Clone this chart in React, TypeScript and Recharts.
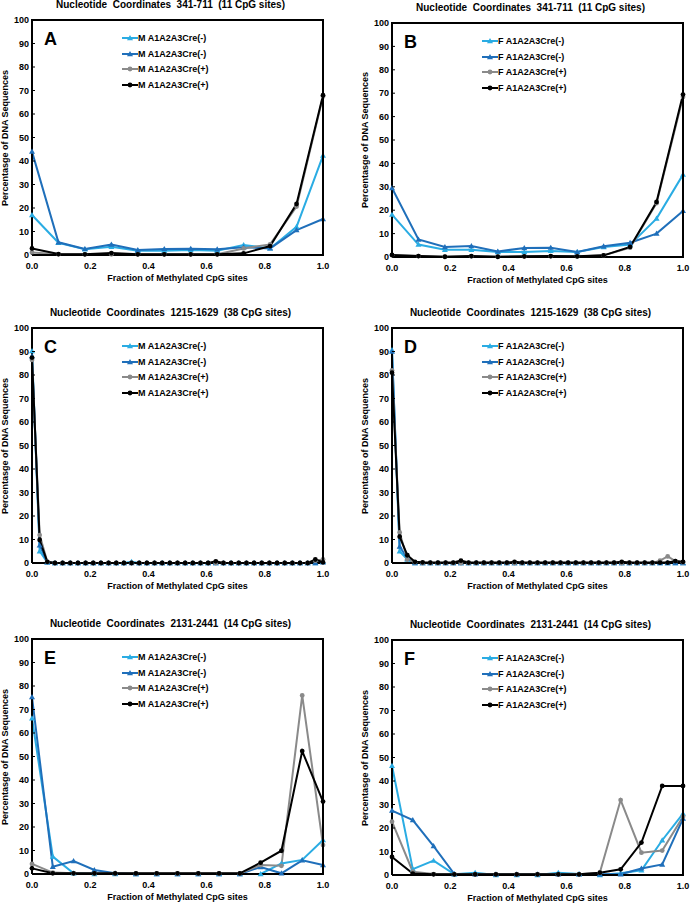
import { Line, LineChart, XAxis, YAxis } from "recharts";

const FONT = '"Liberation Sans", Arial, sans-serif';

const xTicks = [0, 0.2, 0.4, 0.6, 0.8, 1.0];
const yTicks = [0, 10, 20, 30, 40, 50, 60, 70, 80, 90, 100];
const xLabel = "Fraction of Methylated CpG sites";
const yLabel = "Percentasge of DNA Sequences";

const titles = [
  "Nucleotide  Coordinates  341-711  (11 CpG sites)",
  "Nucleotide  Coordinates  341-711  (11 CpG sites)",
  "Nucleotide  Coordinates  1215-1629  (38 CpG sites)",
  "Nucleotide  Coordinates  1215-1629  (38 CpG sites)",
  "Nucleotide  Coordinates  2131-2441  (14 CpG sites)",
  "Nucleotide  Coordinates  2131-2441  (14 CpG sites)",
];
const letters = ["A", "B", "C", "D", "E", "F"];
const namesM = ["M A1A2A3Cre(-)", "M A1A2A3Cre(-)", "M A1A2A3Cre(+)", "M A1A2A3Cre(+)"];
const namesF = ["F A1A2A3Cre(-)", "F A1A2A3Cre(-)", "F A1A2A3Cre(+)", "F A1A2A3Cre(+)"];

const colors = ["#2aace3", "#1f6fba", "#8a8a8a", "#000000"];
const markers = ["triangle", "triangle", "circle", "circle"];

// panel A: 11 CpG sites (12 points)
const aNeg1 = [17, 5.2, 2.4, 3.5, 1.8, 1.8, 2.1, 1.8, 4.3, 2.8, 12, 42.3];
const aNeg2 = [44, 5.4, 2.6, 4.5, 2.1, 2.6, 2.7, 2.4, 3.3, 2.8, 10.6, 15.3];
const aPos1 = [1.1, 0.3, 0.3, 0.3, 0.3, 0.3, 0.3, 0.3, 2.8, 4.5, 20.6, 67.4];
const aPos2 = [2.8, 0.4, 0.3, 0.8, 0.3, 0.3, 0.3, 0.3, 0.7, 3.8, 21.7, 68];

// panel B
const bNeg1 = [18.1, 5.3, 3.1, 3.1, 2.1, 2.1, 2.6, 2.1, 4.3, 5.3, 16.4, 35.2];
const bNeg2 = [29.5, 7.5, 4.3, 4.7, 2.4, 3.8, 4, 2.1, 4.6, 6.1, 10, 19.7];
const bPos1 = [0.7, 0.4, 0.1, 0.3, 0.1, 0.2, 0.3, 0.2, 0.7, 4, 23, 68.4];
const bPos2 = [0.9, 0.4, 0.1, 0.4, 0.1, 0.3, 0.4, 0.3, 0.7, 4.3, 23.5, 69.4];

// panel C: 38 CpG sites (39 points)
const cNeg1 = [90.2, 5, 0.3, 0, 0, 0, 0, 0, 0, 0, 0, 0, 0, 0.5, 0, 0, 0, 0, 0, 0, 0, 0, 0, 0, 0, 0, 0, 0, 0, 0, 0, 0, 0, 0, 0, 0, 0, 0, 0.5];
const cNeg2 = [88, 7.5, 0.3, 0, 0, 0, 0, 0, 0, 0, 0, 0, 0, 0, 0, 0, 0, 0, 0, 0, 0, 0, 0, 0, 0, 0, 0, 0, 0, 0, 0, 0, 0, 0, 0, 0, 0, 0, 0.3];
const cPos1 = [86.4, 11.9, 0.5, 0, 0, 0, 0, 0, 0, 0, 0, 0, 0, 0, 0, 0, 0, 0, 0, 0, 0, 0, 0, 0, 0, 0, 0, 0, 0, 0, 0, 0, 0, 0, 0, 0, 0, 1, 1.5];
const cPos2 = [87.4, 9.8, 0.5, 0, 0, 0, 0, 0, 0, 0, 0, 0, 0, 0, 0, 0, 0, 0, 0, 0, 0, 0, 0, 0, 0.7, 0, 0, 0, 0, 0, 0, 0, 0, 0, 0, 0, 0, 1.5, 0.3];

// panel D
const dNeg1 = [90.6, 5, 1.5, 0, 0, 0, 0, 0, 0, 0, 0, 0, 0, 0, 0, 0, 0, 0, 0, 0, 0, 0, 0, 0, 0, 0, 0, 0, 0, 0, 0, 0, 0, 0, 0, 0, 0, 0, 0];
const dNeg2 = [90, 7, 2, 0, 0, 0, 0, 0, 0, 0, 0, 0, 0, 0, 0, 0, 0, 0, 0, 0, 0, 0, 0, 0, 0, 0, 0, 0, 0, 0, 0, 0, 0, 0, 0, 0, 0, 0, 0];
const dPos1 = [82, 13, 1.5, 0.3, 0, 0, 0, 0, 0, 0, 0, 0, 0, 0, 0, 0, 0, 0, 0, 0, 0, 0, 0, 0, 0, 0, 0, 0, 0, 0, 0, 0, 0, 0, 0, 1, 2.8, 0.8, 0.3];
const dPos2 = [81, 11.2, 3.3, 0.5, 0.3, 0.2, 0.2, 0.2, 0.2, 1, 0.2, 0.2, 0.2, 0.2, 0.2, 0.2, 0.5, 0.2, 0.2, 0.2, 0.2, 0.2, 0.2, 0.2, 0.2, 0.2, 0.2, 0.2, 0.2, 0.2, 0.5, 0.2, 0.2, 0.2, 0.2, 0.2, 0.2, 0.8, 0.5];

// panel E: 14 CpG sites (15 points)
const eNeg1 = [66.3, 7.4, 0.3, 0, 0, 0, 0, 0, 0, 0, 0, 0, 4.5, 6, 14.5];
const eNeg2 = [75.3, 3.1, 5.5, 1.7, 0.3, 0, 0, 0, 0, 0, 0, 3, 0.3, 5.8, 3.8];
const ePos1 = [4.3, 0.6, 0.3, 0.2, 0.2, 0.2, 0.2, 0.2, 0.2, 0.2, 0.2, 3.8, 3.5, 76, 12.3];
const ePos2 = [2.4, 0.3, 0.3, 0.3, 0.3, 0.3, 0.3, 0.3, 0.3, 0.3, 0.3, 4.8, 9.9, 52.3, 30.8];

// panel F
const fNeg1 = [46.5, 2.5, 6.1, 0.3, 1, 0, 0, 0, 1, 0.4, 0, 0.7, 2, 14.8, 26.1];
const fNeg2 = [27.4, 23.4, 12.3, 0.4, 0.3, 0.3, 0.3, 0.3, 0.3, 0.3, 0.3, 0.3, 2.8, 4.5, 24];
const fPos1 = [22.7, 1.4, 0.4, 0.3, 0.3, 0.3, 0.3, 0.3, 0.3, 0.3, 1, 31.9, 9.5, 10.4, 24.8];
const fPos2 = [7.7, 0.6, 0.3, 0.3, 0.3, 0.3, 0.3, 0.3, 0.3, 0.3, 1, 2.4, 13.8, 37.9, 37.9];

const panelSeries = [
  [aNeg1, aNeg2, aPos1, aPos2],
  [bNeg1, bNeg2, bPos1, bPos2],
  [cNeg1, cNeg2, cPos1, cPos2],
  [dNeg1, dNeg2, dPos1, dPos2],
  [eNeg1, eNeg2, ePos1, ePos2],
  [fNeg1, fNeg2, fPos1, fPos2],
];

// plot rectangles in page pixels: left, top, right, bottom
const plots = [
  [32, 20, 323, 255],
  [392, 23, 683, 257],
  [32, 328, 323, 563],
  [392, 328, 683, 563],
  [32, 639, 323, 874],
  [392, 640, 683, 875],
];

function buildRows(series: number[][]) {
  const n = series[0].length - 1;
  return series[0].map((_, i) => ({
    x: i / n,
    s0: series[0][i],
    s1: series[1][i],
    s2: series[2][i],
    s3: series[3][i],
  }));
}

function makeDot(kind: string, color: string) {
  return (props: any) => {
    const { cx, cy, index } = props;
    if (cx == null || cy == null) return <g key={index} />;
    if (kind === "triangle") {
      return <path key={index} d={`M${cx},${cy - 3}L${cx - 3},${cy + 2.2}L${cx + 3},${cy + 2.2}Z`} fill={color} />;
    }
    return <circle key={index} cx={cx} cy={cy} r={2.4} fill={color} />;
  };
}

// y tick: label to the left, short mark pointing into the plot
function YTick(props: any) {
  const { x, y, payload } = props;
  return (
    <g>
      <line x1={x + 3} x2={x + 6} y1={y} y2={y} stroke="#000" strokeWidth={1} />
      <text x={x} y={y} dy="0.35em" textAnchor="end" fill="#000" fontSize={9} fontWeight="bold" fontFamily={FONT}>
        {payload.value}
      </text>
    </g>
  );
}

function LegendIcon({ i }: { i: number }) {
  return (
    <svg width={16} height={8} style={{ display: "block" }}>
      <line x1={0} y1={4} x2={16} y2={4} stroke={colors[i]} strokeWidth={2} />
      {markers[i] === "triangle" ? (
        <path d="M8,1L5,6.2L11,6.2Z" fill={colors[i]} />
      ) : (
        <circle cx={8} cy={4} r={2.4} fill={colors[i]} />
      )}
    </svg>
  );
}

function Panel({ idx }: { idx: number }) {
  const col = idx % 2;
  const row = Math.floor(idx / 2);
  const chartX = col * 345;
  const chartY = row * 300;
  const chartH = row === 2 ? 304 : 300;
  const [pl, pt, pr, pb] = plots[idx];
  const yAxisW = 28;
  const xAxisH = 20;
  const margin = {
    left: pl - chartX - yAxisW,
    top: pt - chartY,
    right: chartX + 345 - pr,
    bottom: chartH - (pb - chartY) - xAxisH,
  };
  const data = buildRows(panelSeries[idx]);
  const names = col === 0 ? namesM : namesF;
  const pw = pr - pl;
  const ph = pb - pt;
  const tick = { fill: "#000", fontSize: 9, fontWeight: "bold", fontFamily: FONT };

  return (
    <div style={{ position: "absolute", left: chartX, top: chartY, width: 345, height: chartH }}>
      <LineChart width={345} height={chartH} data={data} margin={margin}>
        <XAxis
          type="number"
          dataKey="x"
          domain={[0, 1]}
          ticks={xTicks}
          interval={0}
          tickFormatter={(v) => Number(v).toFixed(1)}
          stroke="#000"
          strokeWidth={2}
          tickLine={false}
          tickSize={0}
          tickMargin={8}
          height={xAxisH}
          tick={tick}
        />
        <YAxis
          type="number"
          domain={[0, 100]}
          ticks={yTicks}
          interval={0}
          width={yAxisW}
          stroke="#000"
          strokeWidth={2}
          tickLine={false}
          tickSize={0}
          tickMargin={3}
          tick={<YTick />}
        />
        {[0, 1, 2, 3].map((s) => (
          <Line
            key={s}
            type="linear"
            dataKey={`s${s}`}
            name={names[s]}
            stroke={colors[s]}
            strokeWidth={2}
            dot={makeDot(markers[s], colors[s])}
            activeDot={false}
            isAnimationActive={false}
          />
        ))}
      </LineChart>

      {/* top and right edges of the plot frame */}
      <div
        style={{
          position: "absolute",
          left: pl - chartX - 1,
          top: pt - chartY - 1,
          width: pw + 2,
          height: ph + 2,
          borderTop: "2px solid #000",
          borderRight: "2px solid #000",
          boxSizing: "border-box",
          pointerEvents: "none",
        }}
      />

      <div
        style={{
          position: "absolute",
          left: pl - chartX - 40,
          width: pw + 66,
          top: pt - chartY - 21,
          textAlign: "center",
          fontFamily: FONT,
          fontWeight: "bold",
          fontSize: 10,
          whiteSpace: "pre",
          lineHeight: "12px",
        }}
      >
        {titles[idx]}
      </div>

      <div
        style={{
          position: "absolute",
          left: pl - chartX + 12,
          top: pt - chartY + 9,
          fontFamily: FONT,
          fontWeight: "bold",
          fontSize: 18,
          lineHeight: "20px",
        }}
      >
        {letters[idx]}
      </div>

      <div style={{ position: "absolute", left: pl - chartX + 90, top: pt - chartY + 10 }}>
        {names.map((nm, i) => (
          <div
            key={i}
            style={{
              display: "flex",
              alignItems: "center",
              height: 15.7,
              fontFamily: FONT,
              fontWeight: "bold",
              fontSize: 9,
            }}
          >
            <LegendIcon i={i} />
            <span>{nm}</span>
          </div>
        ))}
      </div>

      <div
        style={{
          position: "absolute",
          left: pl - chartX,
          width: pw,
          top: pb - chartY + 17,
          textAlign: "center",
          fontFamily: FONT,
          fontWeight: "bold",
          fontSize: 9,
          lineHeight: "12px",
        }}
      >
        {xLabel}
      </div>

      <div
        style={{
          position: "absolute",
          left: pl - chartX - 27 - 100,
          top: pt - chartY + ph / 2 - 6,
          width: 200,
          textAlign: "center",
          transform: "rotate(-90deg)",
          transformOrigin: "50% 50%",
          fontFamily: FONT,
          fontWeight: "bold",
          fontSize: 9,
          lineHeight: "12px",
        }}
      >
        {yLabel}
      </div>
    </div>
  );
}

export default function App() {
  return (
    <div style={{ position: "absolute", left: 0, top: 0, width: 690, height: 904, background: "#fff", overflow: "hidden" }}>
      {[0, 1, 2, 3, 4, 5].map((i) => (
        <Panel key={i} idx={i} />
      ))}
    </div>
  );
}
